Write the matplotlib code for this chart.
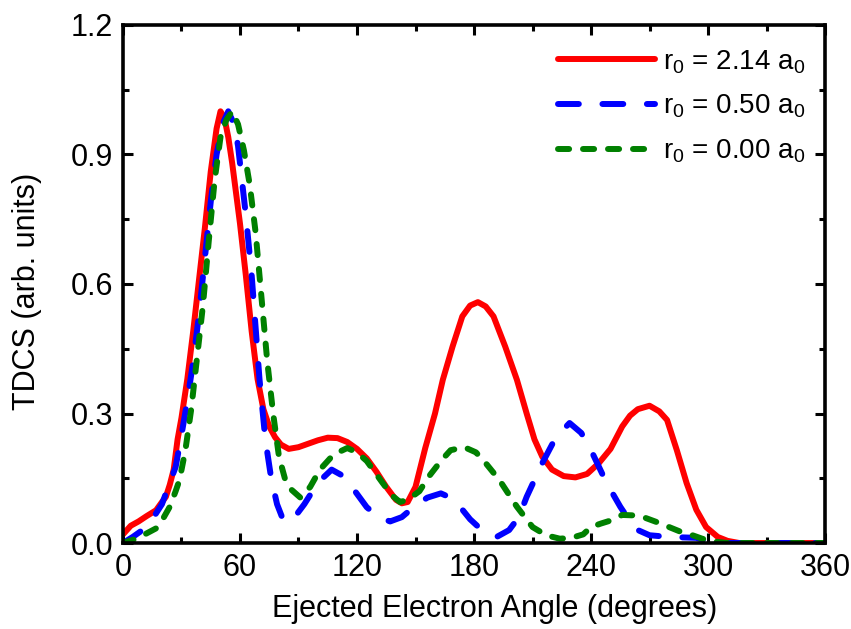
import numpy as np
import matplotlib
matplotlib.use('Agg')
import matplotlib.pyplot as plt
from matplotlib.ticker import MultipleLocator

plt.rcParams['font.family'] = ['Liberation Sans', 'DejaVu Sans']
plt.rcParams['mathtext.fontset'] = 'custom'
plt.rcParams['mathtext.rm'] = 'Liberation Sans'
plt.rcParams['mathtext.it'] = 'Liberation Sans'
plt.rcParams['lines.scale_dashes'] = False

# values
red_angle = [0, 4, 8, 12, 17, 20, 22, 24, 26, 28, 30, 33, 36, 39, 42, 45, 48, 50, 52,
             54, 56, 58, 60, 63, 66, 69, 72, 75, 78, 81, 85, 90, 95, 100, 105, 110,
             115, 120, 125, 130, 135, 140, 143, 146, 150, 155, 160, 164, 169, 174,
             178, 182, 186, 190, 196, 202, 207, 211, 215, 220, 226, 232, 238, 244,
             250, 256, 260, 264, 270, 275, 279, 284, 289, 294, 299, 305, 310, 316, 360]
red_tdcs = [0.02, 0.04, 0.05, 0.062, 0.076, 0.095, 0.107, 0.135, 0.17, 0.24, 0.29,
            0.38, 0.49, 0.61, 0.73, 0.86, 0.96, 1.0, 0.985, 0.94, 0.88, 0.81, 0.74,
            0.62, 0.49, 0.38, 0.31, 0.27, 0.245, 0.228, 0.218, 0.222, 0.23, 0.238,
            0.244, 0.243, 0.234, 0.218, 0.196, 0.165, 0.13, 0.1, 0.092, 0.095, 0.13,
            0.22, 0.3, 0.378, 0.455, 0.525, 0.55, 0.558, 0.548, 0.525, 0.455, 0.378,
            0.30, 0.24, 0.2, 0.17, 0.155, 0.152, 0.16, 0.185, 0.218, 0.27, 0.295,
            0.31, 0.318, 0.305, 0.285, 0.215, 0.139, 0.077, 0.037, 0.014, 0.005,
            0.0, 0.0]

blue_angle = [0, 5, 10, 15, 20, 24, 27, 30, 33, 36, 39, 42, 45, 48, 51, 54, 57, 59,
              61, 63, 66, 68, 70, 73, 76, 79, 82, 85, 88, 93, 100, 107, 113, 119, 125,
              131, 137, 143, 149, 156, 163, 168, 173, 178, 184, 192, 198, 203, 207,
              215, 222, 229, 235, 240, 248, 255, 260, 264, 270, 280, 294, 300, 306, 360]
blue_tdcs = [0.0, 0.014, 0.03, 0.055, 0.09, 0.14, 0.176, 0.25, 0.33, 0.42, 0.53, 0.66,
             0.79, 0.9, 0.97, 1.0, 0.97, 0.92, 0.84, 0.76, 0.62, 0.5, 0.38, 0.24,
             0.15, 0.09, 0.055, 0.048, 0.06, 0.09, 0.14, 0.17, 0.155, 0.12, 0.083,
             0.06, 0.05, 0.06, 0.083, 0.105, 0.115, 0.105, 0.083, 0.055, 0.03, 0.015,
             0.03, 0.06, 0.107, 0.185, 0.245, 0.278, 0.255, 0.215, 0.139, 0.084, 0.05,
             0.03, 0.018, 0.014, 0.012, 0.004, 0.0, 0.0]

green_angle = [0, 4, 7, 12, 17, 21, 24, 27, 29, 32, 35, 38, 41, 44, 47, 50, 53, 56, 59,
               62, 65, 68, 71, 74, 77, 80, 83, 86, 91, 96, 101, 108, 115, 120, 125,
               133, 138, 142, 146, 152, 157, 163, 168, 175, 181, 186, 193, 202, 210,
               217, 224, 230, 236, 240, 245, 250, 256, 262, 268, 274, 280, 286, 292,
               297, 302, 310, 360]
green_tdcs = [0.0, 0.006, 0.01, 0.022, 0.034, 0.06, 0.084, 0.12, 0.146, 0.215, 0.31,
              0.43, 0.55, 0.7, 0.84, 0.94, 0.98, 1.0, 0.97, 0.91, 0.83, 0.72, 0.57,
              0.42, 0.3, 0.2, 0.15, 0.125, 0.105, 0.13, 0.17, 0.205, 0.22, 0.21, 0.19,
              0.14, 0.11, 0.095, 0.1, 0.12, 0.155, 0.19, 0.215, 0.222, 0.21, 0.185,
              0.146, 0.084, 0.037, 0.018, 0.01, 0.012, 0.02, 0.037, 0.045, 0.052,
              0.065, 0.064, 0.058, 0.048, 0.037, 0.026, 0.018, 0.01, 0.004, 0.0, 0.0]

labels = [r'r$_0$ = 2.14 a$_0$', r'r$_0$ = 0.50 a$_0$', r'r$_0$ = 0.00 a$_0$']

fig = plt.figure(figsize=(8.51, 6.29), dpi=100)
ax = fig.add_axes([0.1445, 0.1367, 0.825, 0.8236])

ax.plot(red_angle, red_tdcs, color='#ff0000', lw=4.3, solid_capstyle='round',
        solid_joinstyle='round', label=labels[0])
ax.plot(blue_angle, blue_tdcs, color='#0000ff', lw=4.3, dashes=(15, 17),
        dash_capstyle='round', dash_joinstyle='round', label=labels[1])
ax.plot(green_angle, green_tdcs, color='#008000', lw=4.3, dashes=(8, 10),
        dash_capstyle='round', dash_joinstyle='round', label=labels[2])

ax.set_xlim(0, 360)
ax.set_ylim(0, 1.2)
ax.xaxis.set_major_locator(MultipleLocator(60))
ax.xaxis.set_minor_locator(MultipleLocator(30))
ax.yaxis.set_major_locator(MultipleLocator(0.3))
ax.yaxis.set_minor_locator(MultipleLocator(0.15))
ax.yaxis.set_major_formatter(plt.FormatStrFormatter('%.1f'))

ax.tick_params(which='both', direction='in', top=True, right=True, width=2.2,
               labelsize=22)
ax.tick_params(which='major', length=7, pad=7)
ax.tick_params(which='minor', length=4)
for sp in ax.spines.values():
    sp.set_linewidth(2.6)

ax.set_xlabel('Ejected Electron Angle (degrees)', fontsize=22)
ax.xaxis.set_label_coords(0.53, -0.098)
ax.set_ylabel('TDCS (arb. units)', fontsize=22)
ax.yaxis.set_label_coords(-0.115, 0.485)

ax.legend(loc='upper right', frameon=False, fontsize=20, handlelength=3.5,
          handletextpad=0.3, labelspacing=0.62, borderaxespad=0.3,
          bbox_to_anchor=(1.0, 0.993))

fig.savefig('out.png', dpi=100)
